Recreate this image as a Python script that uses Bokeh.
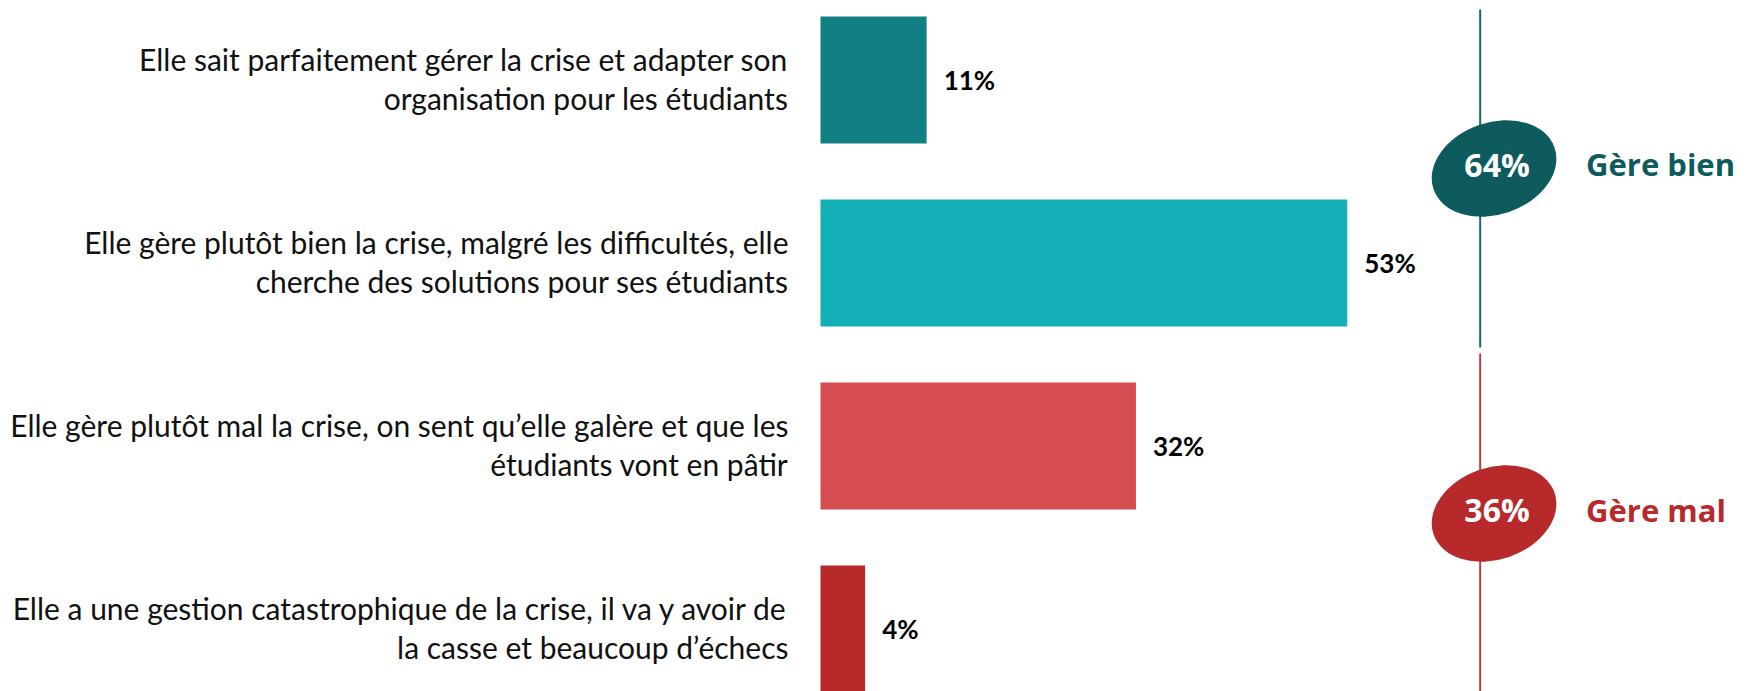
from bokeh.plotting import figure
from bokeh.models import Range1d, ColumnDataSource
from bokeh.core.properties import value
from bokeh.embed import file_html
from bokeh.resources import INLINE

# ---------------- data ----------------
categories = [
    "Elle sait parfaitement gérer la crise et adapter son\norganisation pour les étudiants",
    "Elle gère plutôt bien la crise, malgré les difficultés, elle\ncherche des solutions pour ses étudiants",
    "Elle gère plutôt mal la crise, on sent qu’elle galère et que les\nétudiants vont en pâtir",
    "Elle a une gestion catastrophique de la crise, il va y avoir de\nla casse et beaucoup d’échecs",
]
values = [10.7, 53.1, 31.8, 4.5]
value_labels = ["11%", "53%", "32%", "4%"]
bar_colors = ["#127F85", "#14AFB7", "#D64D51", "#B8292A"]

summary_labels = ["64%", "36%"]
summary_names = ["Gère bien", "Gère mal"]
summary_colors = ["#0E5B5D", "#B8292B"]
line_colors = ["#1A6668", "#C43A3C"]

# ---------------- layout ----------------
W, H = 1749, 691
X0_PX = 820          # bar origin in figure pixels
PX_PER_PCT = 9.92
ROW_PX = 183
FIRST_ROW_PX = 79.5

x_start = -X0_PX / PX_PER_PCT
x_end = (W - X0_PX) / PX_PER_PCT
y_end = FIRST_ROW_PX / ROW_PX
y_start = y_end - H / ROW_PX

p = figure(width=W, height=H, output_backend="svg", toolbar_location=None,
           x_range=Range1d(x_start, x_end), y_range=Range1d(y_start, y_end),
           min_border=0, x_axis_location=None, y_axis_location=None)
p.grid.visible = False
p.outline_line_color = None
p.background_fill_color = "white"
p.border_fill_color = "white"

ys = [-i for i in range(len(categories))]

src = ColumnDataSource(dict(y=ys, v=values, c=bar_colors, lab=value_labels))
p.hbar(y="y", left=0, right="v", height=0.694, fill_color="c", line_color=None, source=src)

# value labels
p.text(x="v", y="y", text="lab", source=src, x_offset=17, y_offset=0,
       text_align="left", text_baseline="middle",
       text_font=value("Lato"), text_font_style="bold", text_font_size="26px",
       text_color="#000000")

# category labels, two lines each
line1 = [c.split("\n")[0] for c in categories]
line2 = [c.split("\n")[1] for c in categories]
p.text(x=[0] * 4, y=ys, text=line1, x_offset=-32, y_offset=-21,
       text_align="right", text_baseline="middle",
       text_font=value("Lato"), text_font_size="30px", text_color="#111111")
p.text(x=[0] * 4, y=ys, text=line2, x_offset=-32, y_offset=18,
       text_align="right", text_baseline="middle",
       text_font=value("Lato"), text_font_size="30px", text_color="#111111")

# summary side: vertical lines, ellipses, labels
LINE_X = 66.5
ELL_X = 67.9
ell_y = [-0.4836, -2.369]
seg_y0 = [0.385, -1.495]
seg_y1 = [-1.462, y_start - 0.2]
p.segment(x0=[LINE_X] * 2, y0=seg_y0, x1=[LINE_X] * 2, y1=seg_y1,
          line_color=line_colors, line_width=2)
p.ellipse(x=[ELL_X] * 2, y=ell_y, width=128, height=92,
          width_units="screen", height_units="screen",
          angle=19, angle_units="deg", fill_color=summary_colors, line_color=None)
p.text(x=[ELL_X] * 2, y=ell_y, text=summary_labels, x_offset=3, y_offset=-4,
       text_align="center", text_baseline="middle",
       text_font=value("Open Sans"), text_font_style="bold", text_font_size="32px",
       text_color="white")
p.text(x=[ELL_X] * 2, y=ell_y, text=summary_names, x_offset=92, y_offset=-4,
       text_align="left", text_baseline="middle",
       text_font=value("Open Sans"), text_font_style="bold", text_font_size="31px",
       text_color=summary_colors)

open("out.html", "w").write(file_html(p, INLINE))
